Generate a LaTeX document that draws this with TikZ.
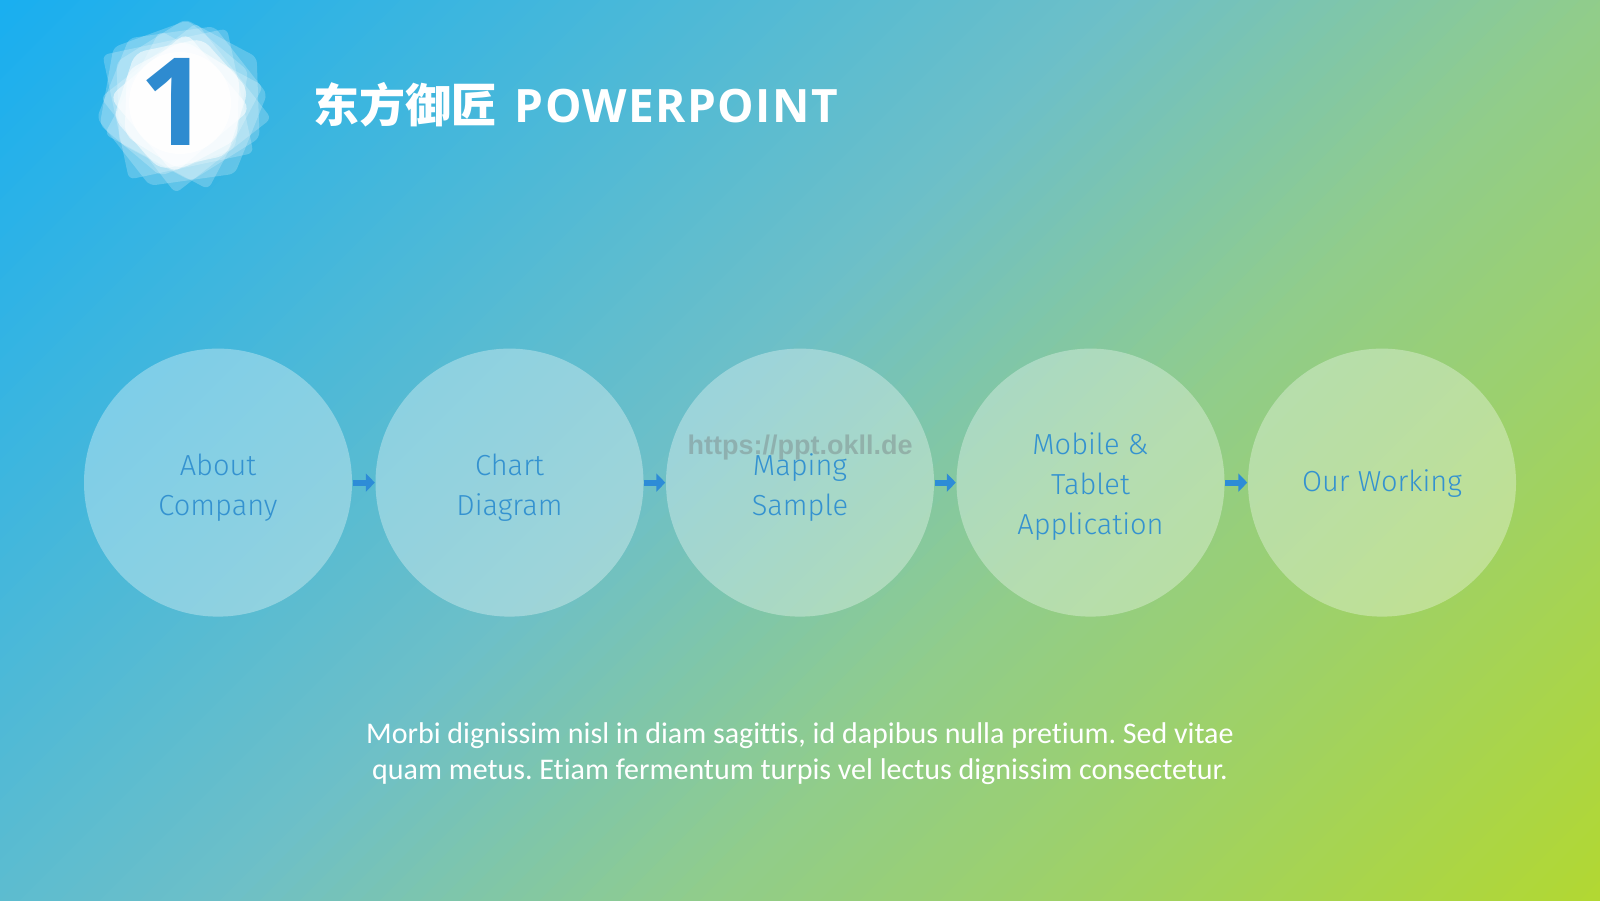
\documentclass[tikz,border=0pt]{standalone}
\usepackage{fontspec}
\usetikzlibrary{arrows.meta,shapes.geometric}
\newfontfamily\bodyfont{Carlito}[Ligatures=NoCommon]
\newfontfamily\titlefont{Open Sans}
\newfontfamily\titlespaced{Open Sans}[LetterSpace=3]
\newfontfamily\cjk{Noto Sans CJK SC}
\newfontfamily\digitfont{Liberation Sans}
\IfFontExistsTF{Fira Sans Light}{\newfontfamily\lightfont{Fira Sans Light}}{\newfontfamily\lightfont{Fira Sans}}
\definecolor{lbl}{RGB}{52,146,208}
\definecolor{arrc}{RGB}{45,140,215}
\definecolor{digit}{RGB}{46,139,208}
\definecolor{wmark}{RGB}{125,140,140}
\tikzset{
  circ/.style={circle, minimum size=2.68cm, inner sep=0pt, fill=white, fill opacity=0.33},
  lbltext/.style={inner sep=0pt, text=lbl, align=center, font=\lightfont\fontsize{0.29cm}{0.4cm}\selectfont},
  arr/.style={arrc, line width=0.06cm, -{Triangle[length=0.09cm,width=0.18cm]}},
  cloud/.style={fill=white, fill opacity=0.22, draw=none, inner sep=0pt, rounded corners=0.06cm},
  core/.style={fill=white, fill opacity=0.55, draw=none, inner sep=0pt, rounded corners=0.1cm}
}
\begin{document}
\frenchspacing
\begin{tikzpicture}
\useasboundingbox (0,0) rectangle (16,9);
% background gradient (diagonal)
\begin{scope}
\clip (0,0) rectangle (16,9);
\foreach \i in {0,...,124}{
  \pgfmathsetmacro\t{\i/124}
  \pgfmathtruncatemacro\r{\t<0.45 ? 26+(110-26)*\t/0.45 : (\t<0.64 ? 110+(145-110)*(\t-0.45)/0.19 : 145+(178-145)*(\t-0.64)/0.36)}
  \pgfmathtruncatemacro\g{\t<0.45 ? 175+(192-175)*\t/0.45 : (\t<0.64 ? 192+(205-192)*(\t-0.45)/0.19 : 205+(216-205)*(\t-0.64)/0.36)}
  \pgfmathtruncatemacro\b{\t<0.45 ? 240+(200-240)*\t/0.45 : (\t<0.64 ? 200+(140-200)*(\t-0.45)/0.19 : 140+(52-140)*(\t-0.64)/0.36)}
  \definecolor{bgc}{RGB}{\r,\g,\b}
  \pgfmathsetmacro\ca{25*\i/125}
  \pgfmathsetmacro\cb{25*(\i+1)/125+0.03}
  \fill[bgc] ({\ca+0.5},9.5) -- ({\cb+0.5},9.5) -- ({\cb-9.5},-0.5) -- ({\ca-9.5},-0.5) -- cycle;
}
\end{scope}
% logo cloud
\node[cloud, regular polygon, regular polygon sides=6, minimum size=1.72cm, rotate=8] (l1) at (1.82,7.94) {};
\node[cloud, regular polygon, regular polygon sides=6, minimum size=1.62cm, rotate=32] (l2) at (1.88,8.00) {};
\node[cloud, regular polygon, regular polygon sides=4, minimum size=1.8cm, rotate=12] (l3) at (1.78,7.96) {};
\node[cloud, regular polygon, regular polygon sides=4, minimum size=1.72cm, rotate=38] (l4) at (1.86,7.92) {};
\node[cloud, regular polygon, regular polygon sides=6, minimum size=1.58cm, rotate=20] (l5) at (1.74,8.02) {};
\node[cloud, regular polygon, regular polygon sides=4, minimum size=1.66cm, rotate=62] (l6) at (1.84,7.90) {};
\node[core, regular polygon, regular polygon sides=6, minimum size=1.38cm, rotate=12] (l7) at (1.81,7.96) {};
\node[core, regular polygon, regular polygon sides=4, minimum size=1.42cm, rotate=40] (l8) at (1.80,7.97) {};
\node[core, regular polygon, regular polygon sides=6, minimum size=1.3cm, rotate=28] (l9) at (1.82,7.95) {};
\node[circle, fill=white, fill opacity=0.85, minimum size=1.02cm, inner sep=0pt] (l10) at (1.80,7.97) {};
\node[text=digit, inner sep=0pt, font=\titlefont\bfseries\fontsize{1.22cm}{1.22cm}\selectfont] (one) at (1.74,7.98) {1};
% title
\node[anchor=base west, inner sep=0pt, text=white, font=\bfseries\fontsize{0.46cm}{0.5cm}\selectfont] (title) at (3.13,7.77) {{\cjk 东方御匠} {\titlespaced POWERPOINT}};
% circles
\node[circ] (c1) at (2.18,4.174) {};
\node[circ] (c2) at (5.095,4.174) {};
\node[circ] (c3) at (8.0,4.174) {};
\node[circ] (c4) at (10.905,4.174) {};
\node[circ] (c5) at (13.82,4.174) {};
\node[lbltext, yshift=-0.05cm] (t1) at (c1) {About\\Company};
\node[lbltext, yshift=-0.05cm] (t2) at (c2) {Chart\\Diagram};
\node[lbltext, yshift=-0.05cm] (t3) at (c3) {Maping\\Sample};
\node[lbltext, yshift=-0.04cm] (t4) at (c4) {Mobile \&\\Tablet\\Application};
\node[lbltext, yshift=-0.01cm] (t5) at (c5) {Our Working};
\draw[arr] (c1) -- (c2);
\draw[arr] (c2) -- (c3);
\draw[arr] (c3) -- (c4);
\draw[arr] (c4) -- (c5);
% watermark
\node[anchor=base, inner sep=0pt, text=wmark, text opacity=0.5, font=\digitfont\bfseries\fontsize{0.27cm}{0.3cm}\selectfont] (wm) at (8.0,4.46) {https://ppt.okll.de};
% description
\node[align=center, text=white, inner sep=0pt, font=\bodyfont\fontsize{0.30cm}{0.357cm}\selectfont] (desc) at (8.0,1.46) {Morbi dignissim nisl in diam sagittis, id dapibus nulla pretium. Sed vitae\\quam metus. Etiam fermentum turpis vel lectus dignissim consectetur.};
\end{tikzpicture}
\end{document}
